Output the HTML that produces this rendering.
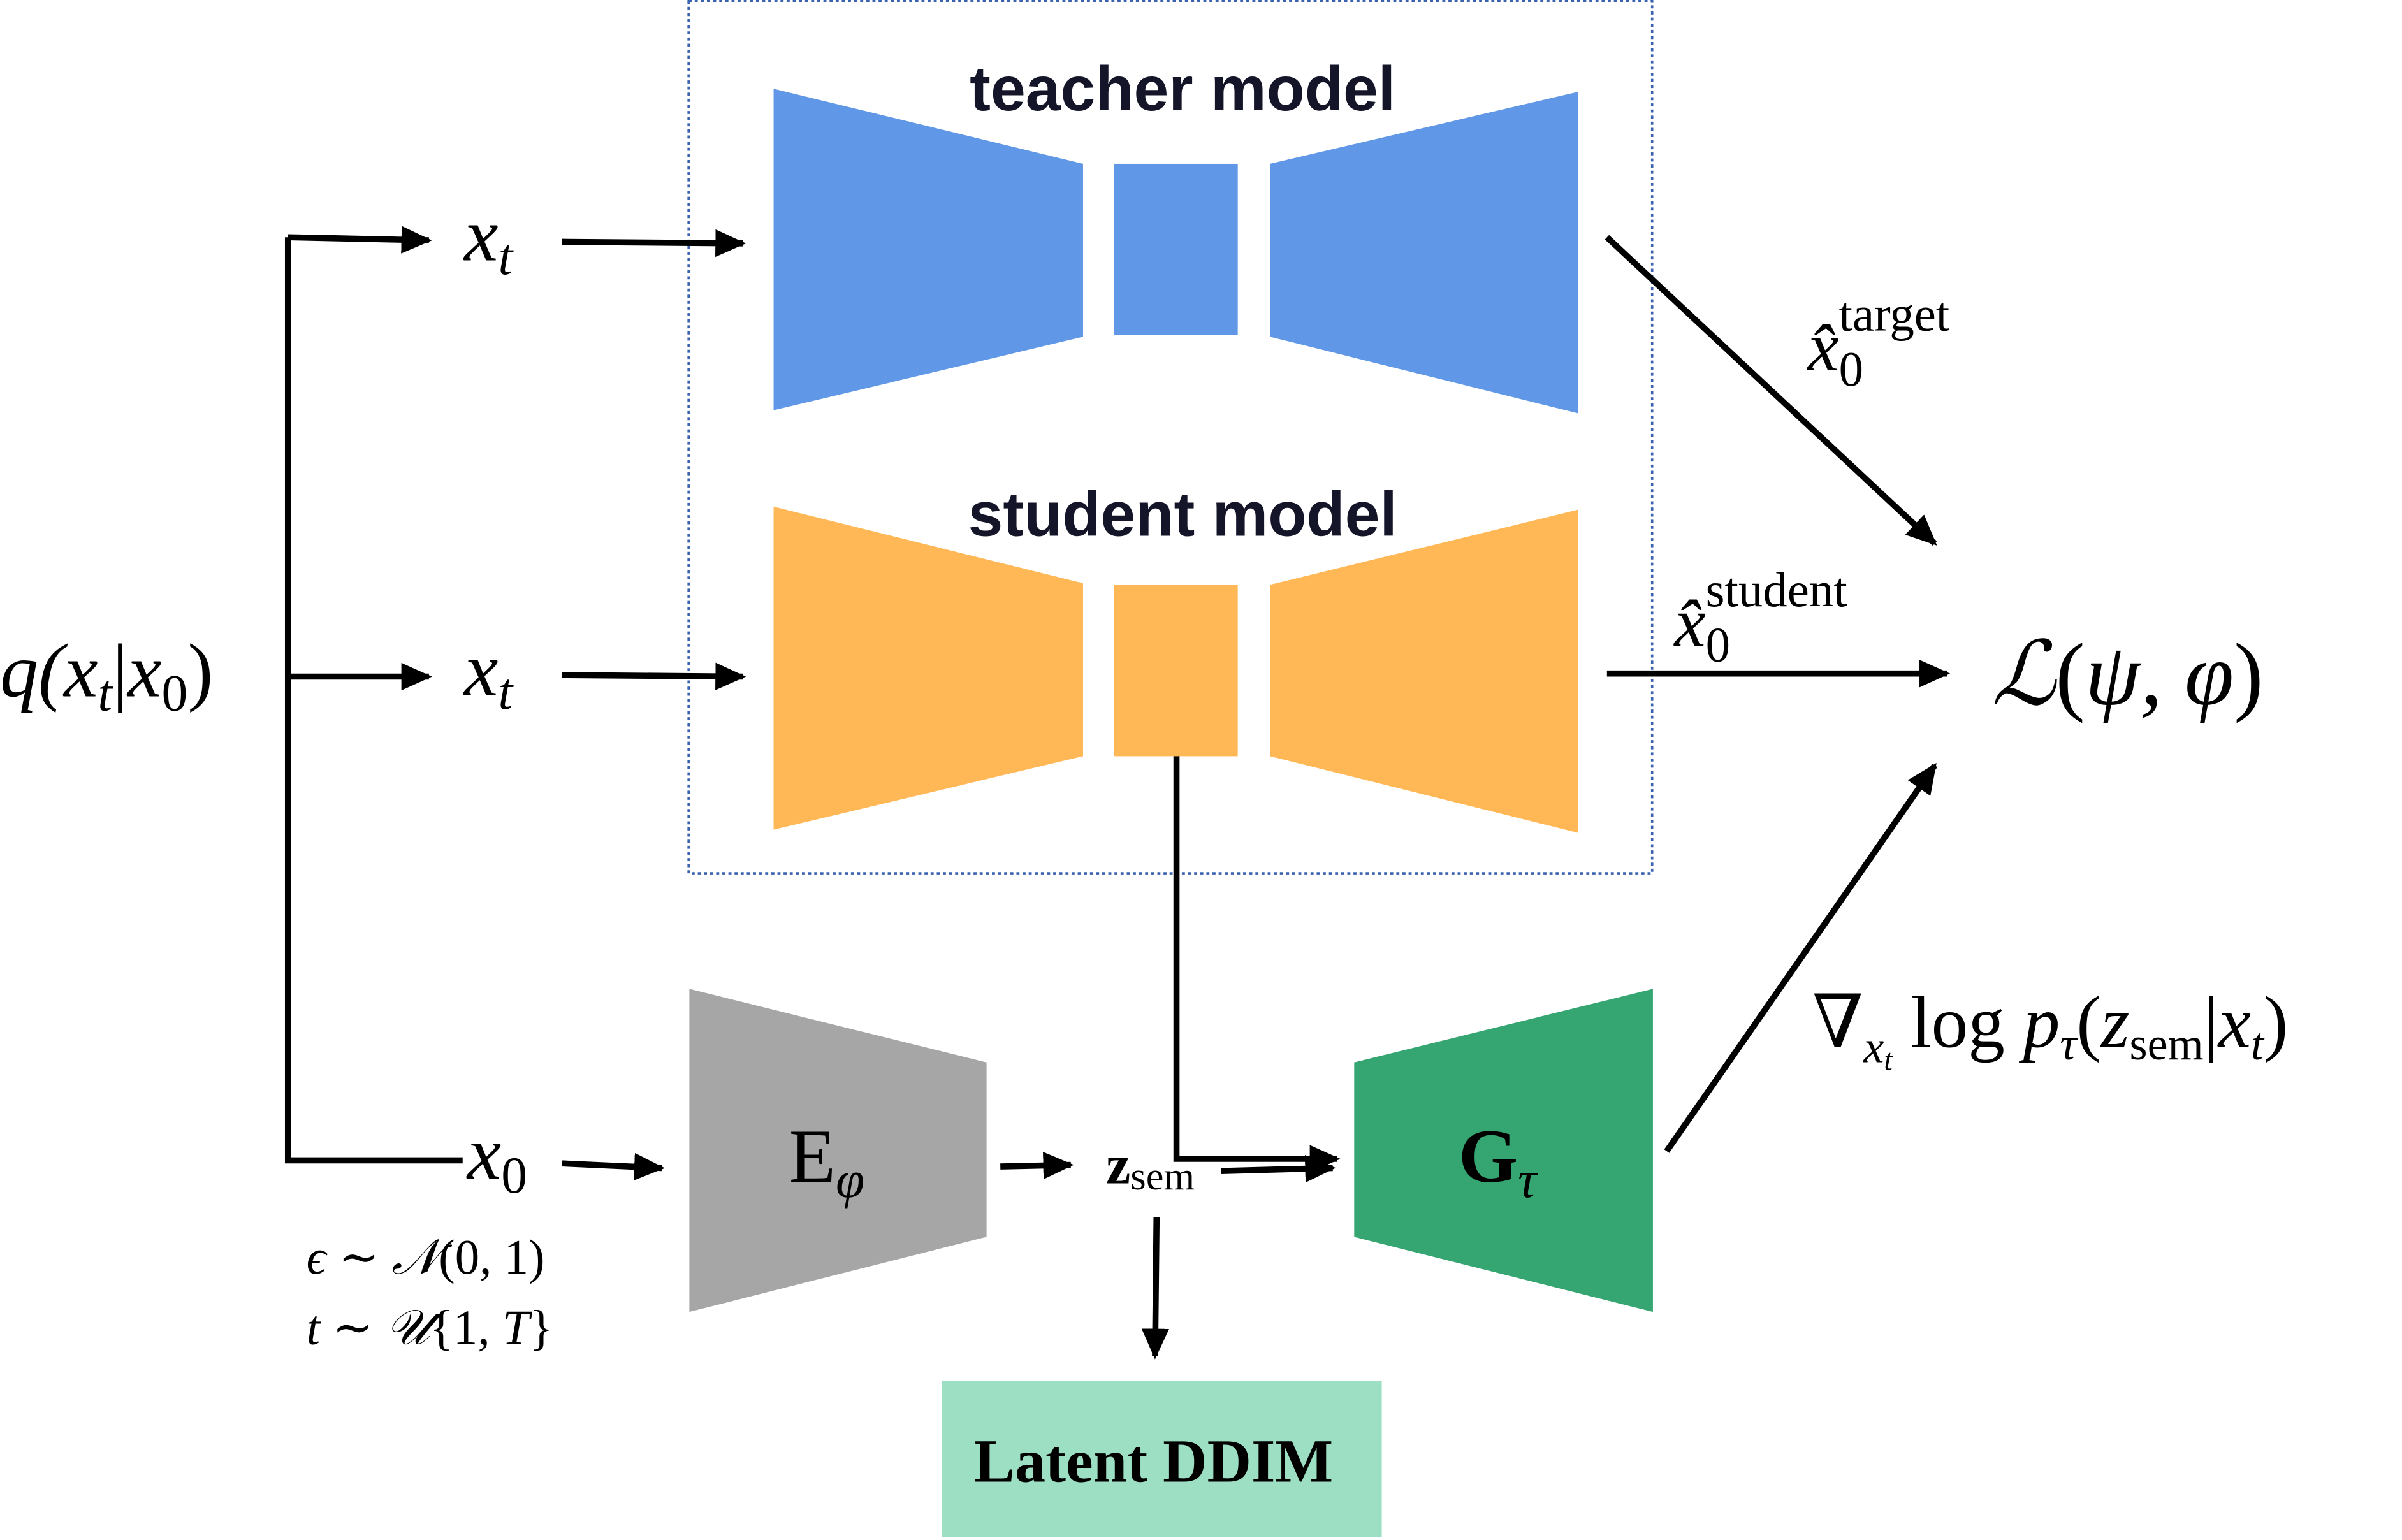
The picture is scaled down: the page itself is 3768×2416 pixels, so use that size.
<!DOCTYPE html>
<html><head><meta charset="utf-8"><style>
html,body{margin:0;padding:0;background:#fff;}
svg{display:block;}
.m{font-family:"Liberation Serif","DejaVu Serif",serif;font-style:italic;fill:#000;}
.r{font-family:"Liberation Serif","DejaVu Serif",serif;fill:#000;}
.t{font-family:"Liberation Sans","DejaVu Sans",sans-serif;font-weight:bold;fill:#15152a;}
</style></head><body>
<svg width="3768" height="2416" viewBox="0 0 1568 1006" preserveAspectRatio="none" xmlns="http://www.w3.org/2000/svg">
<defs>
<marker id="b" markerWidth="20" markerHeight="18" refX="18" refY="9" orient="auto" markerUnits="userSpaceOnUse">
<path d="M0,0 L20,9 L0,18 z" fill="#000"/></marker>
</defs>
<rect x="449.5" y="0.5" width="629" height="570" fill="none" stroke="#3a62b0" stroke-width="1.5" stroke-dasharray="2,2"/>
<polygon points="505,58 707,107 707,220 505,268" fill="#6097e6"/>
<rect x="727" y="107" width="81" height="112" fill="#6097e6"/>
<polygon points="829,107 1030,60 1030,270 829,220" fill="#6097e6"/>
<text class="t" x="772" y="72" font-size="41" text-anchor="middle">teacher model</text>
<polygon points="505,331 707,381 707,494 505,542" fill="#ffb855"/>
<rect x="727" y="382" width="81" height="112" fill="#ffb855"/>
<polygon points="829,382 1030,333 1030,544 829,494" fill="#ffb855"/>
<text class="t" x="772" y="350" font-size="41" text-anchor="middle">student model</text>
<polygon points="450,646 644,694 644,808 450,857" fill="#a6a6a6"/>
<polygon points="884,694 1079,646 1079,857 884,808" fill="#35a572"/>
<rect x="615" y="902" width="287" height="102" fill="#9ddfc3"/>
<text class="r" x="753" y="968" font-size="40" font-weight="bold" text-anchor="middle">Latent DDIM</text>
<g stroke="#000" stroke-width="4" fill="none">
<polyline points="188,155 188,758 302,758"/>
<line x1="188" y1="155" x2="280" y2="157" marker-end="url(#b)"/>
<line x1="188" y1="442" x2="280" y2="442" marker-end="url(#b)"/>
<line x1="367" y1="158" x2="485" y2="159" marker-end="url(#b)"/>
<line x1="367" y1="441" x2="485" y2="442" marker-end="url(#b)"/>
<line x1="367" y1="760" x2="432" y2="763" marker-end="url(#b)"/>
<line x1="653" y1="762" x2="699" y2="761" marker-end="url(#b)"/>
<line x1="797" y1="765" x2="870" y2="763" marker-end="url(#b)"/>
<polyline points="768,494 768,757 873,757" marker-end="url(#b)"/>
<line x1="755" y1="795" x2="754" y2="886" marker-end="url(#b)"/>
<line x1="1049" y1="155" x2="1263" y2="355" marker-end="url(#b)"/>
<line x1="1049" y1="440" x2="1271" y2="440" marker-end="url(#b)"/>
<line x1="1088" y1="752" x2="1263" y2="500" marker-end="url(#b)"/>
</g>
<text class="m" x="0" y="455" font-size="50">q(x<tspan font-size="34" dy="9">t</tspan><tspan dy="-9" font-style="normal">|</tspan>x<tspan font-size="34" dy="9" font-style="normal">0</tspan><tspan dy="-9" font-style="normal">)</tspan></text>
<text class="m" x="303" y="170" font-size="50">x<tspan font-size="34" dy="9">t</tspan></text>
<text class="m" x="303" y="454" font-size="50">x<tspan font-size="34" dy="9">t</tspan></text>
<text class="m" x="305" y="770" font-size="50">x<tspan font-size="34" dy="9" font-style="normal">0</tspan></text>
<text class="m" x="200" y="832" font-size="32">ϵ ∼ 𝒩<tspan font-style="normal">(0, 1)</tspan></text>
<text class="m" x="200" y="878" font-size="32">t ∼ 𝒰<tspan font-style="normal">{1, </tspan>T<tspan font-style="normal">}</tspan></text>
<text class="r" x="515" y="772" font-size="50">E<tspan class="m" font-size="34" dy="10">φ</tspan></text>
<text class="r" x="722" y="773" font-size="36" font-weight="bold">z<tspan font-weight="normal" font-size="26" dy="4">sem</tspan></text>
<text class="r" x="952" y="772" font-size="50" font-weight="bold">G<tspan class="m" font-weight="normal" font-size="34" dy="10">τ</tspan></text>
<text class="m" x="1180" y="242" font-size="46">x̂<tspan font-style="normal" font-size="32" dy="10">0</tspan><tspan font-style="normal" font-size="32" dx="-16" dy="-36">target</tspan></text>
<text class="m" x="1093" y="422" font-size="46">x̂<tspan font-style="normal" font-size="32" dy="10">0</tspan><tspan font-style="normal" font-size="32" dx="-16" dy="-36">student</tspan></text>
<text class="m" x="1300" y="460" font-size="58">ℒ<tspan font-style="normal">(</tspan>ψ, φ<tspan font-style="normal">)</tspan></text>
<text class="r" x="1183" y="684" font-size="48">∇<tspan class="m" font-size="30" dy="10">x</tspan><tspan class="m" font-size="20" dy="5">t</tspan><tspan dy="-15"> log </tspan><tspan class="m">p</tspan><tspan class="m" font-size="30" dy="8">τ</tspan><tspan dy="-8">(</tspan><tspan class="m">z</tspan><tspan font-size="30" dy="8">sem</tspan><tspan dy="-8">|</tspan><tspan class="m">x</tspan><tspan class="m" font-size="30" dy="8">t</tspan><tspan dy="-8">)</tspan></text>
</svg>
</body></html>
